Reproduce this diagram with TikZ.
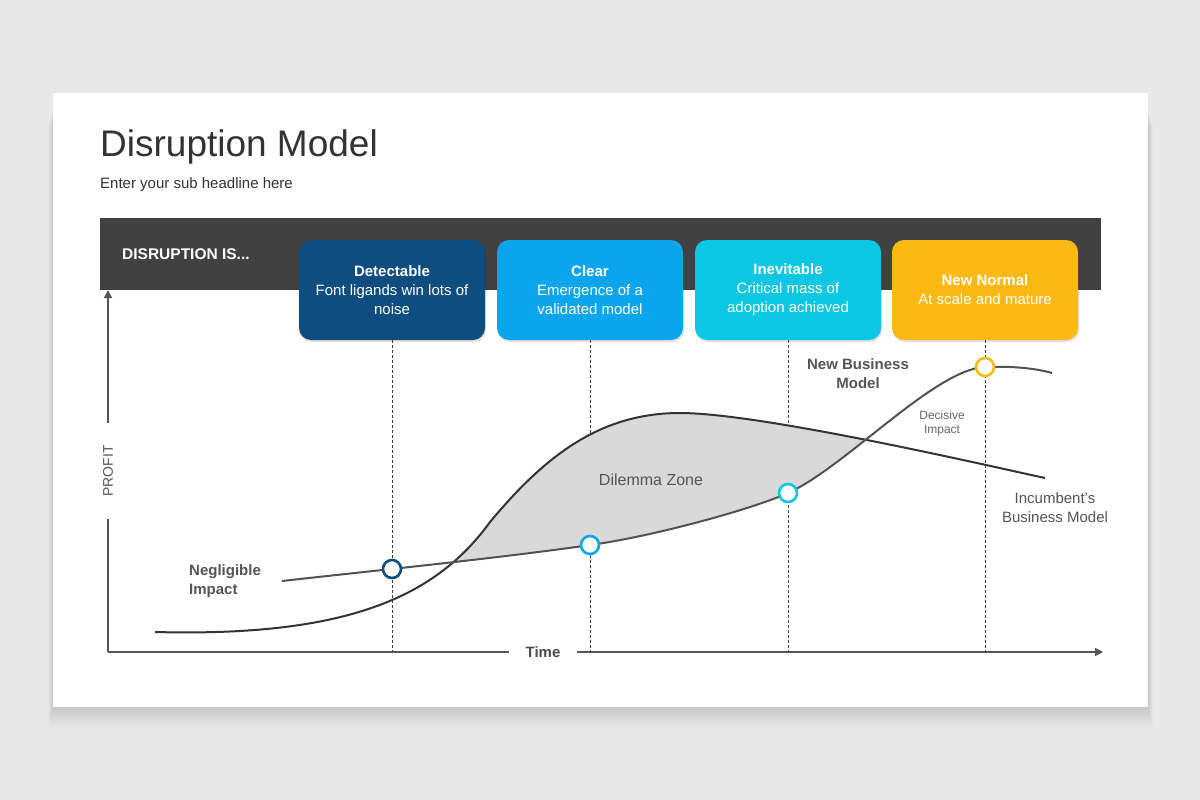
\documentclass[tikz,border=0pt]{standalone}
\usepackage{fontspec}
\setmainfont{Liberation Sans}
\usetikzlibrary{arrows.meta}
\definecolor{bgc}{HTML}{E9E8E9}
\definecolor{barc}{HTML}{414141}
\definecolor{titlec}{HTML}{333333}
\definecolor{labc}{HTML}{555555}
\definecolor{axisc}{HTML}{555555}
\definecolor{curvec}{HTML}{333333}
\definecolor{zonec}{HTML}{D9D9D9}
\definecolor{cdet}{HTML}{0E4D7F}
\definecolor{cclr}{HTML}{0AA5EC}
\definecolor{cinv}{HTML}{0BC7E3}
\definecolor{cnew}{HTML}{FDB913}
\begin{document}
\begin{tikzpicture}[x=1pt,y=-1pt,
  stagebox/.style={rounded corners=12pt, minimum width=186pt, minimum height=100pt,
    text=white, align=center, inner sep=0pt, font=\fontsize{15}{19}\selectfont,
    preaction={fill=black,opacity=.12,transform canvas={yshift=-2pt,xshift=1pt}}},
  guide/.style={draw=black!75, line width=1pt, dash pattern=on 3pt off 2pt},
  axisline/.style={draw=axisc, line width=1.4pt},
  curveline/.style={draw=curvec, line width=2pt},
  marker/.style={circle, fill=white, line width=2.6pt, minimum size=18pt, inner sep=0pt},
  lab/.style={text=labc, font=\fontsize{15}{19}\selectfont, align=center, inner sep=0pt},
  tip/.style={-{Triangle[width=8pt,length=8pt]}}
]
\useasboundingbox (0,0) rectangle (1200,800);
\fill[bgc] (0,0) rectangle (1200,800);
% card shadow
\foreach \i in {1,...,16}
  \fill[black,opacity=0.009] (53-\i*0.3,110+\i*1) rectangle (1148+\i*0.3,707+\i*1.3);
\fill[white] (53,93) rectangle (1148,707);

% title
\node[anchor=base west, inner sep=0pt, text=titlec, font=\fontsize{37}{40}\selectfont] (title) at (100,156) {Disruption Model};
\node[anchor=base west, inner sep=0pt, text=titlec, font=\fontsize{15}{17}\selectfont] (sub) at (100,188) {Enter your sub headline here};

% dark bar
\fill[barc] (100,218) rectangle (1101,290);
\node[anchor=west, inner sep=0pt, text=white, font=\bfseries\fontsize{15.5}{18}\selectfont] (dis) at (122,254) {DISRUPTION IS...};

% stage boxes
\node[stagebox, fill=cdet] (b1) at (392,290) {\textbf{Detectable}\\Font ligands win lots of\\noise};
\node[stagebox, fill=cclr] (b2) at (590,290) {\textbf{Clear}\\Emergence of a\\validated model};
\node[stagebox, fill=cinv] (b3) at (788,290) {\textbf{Inevitable}\\Critical mass of\\adoption achieved};
\node[stagebox, fill=cnew] (b4) at (985,290) {\textbf{New Normal}\\At scale and mature};

% axes
\coordinate (O) at (108,652);
\coordinate (ytop) at (108,290);
\coordinate (xend) at (1103,652);
\node[rotate=90, fill=white, inner xsep=22pt, inner ysep=2pt, text=labc, font=\fontsize{14}{17}\selectfont] (profit) at (108,471) {PROFIT};
\node[fill=white, inner xsep=16pt, inner ysep=2pt, text=labc!90!black, font=\bfseries\fontsize{15}{18}\selectfont] (time) at (543,652) {Time};
\draw[axisline] (O) -- (profit.west);
\draw[axisline, tip] (profit.east) -- (ytop);
\draw[axisline] (O) -- (time.west);
\draw[axisline, tip] (time.east) -- (xend);

% guide lines
\coordinate (t1) at (392,652);
\coordinate (t2) at (590,652);
\coordinate (t3) at (788,652);
\coordinate (t4) at (985,652);
\draw[guide] (b1.south) -- (t1);
\draw[guide] (b2.south) -- (t2);
\draw[guide] (b3.south) -- (t3);
\draw[guide] (b4.south) -- (t4);

% curves
\def\incumbent{(155,632) .. controls (345,637) and (435,598) .. (490,522)
  .. controls (545,456) and (600,413) .. (680,413)
  .. controls (760,413) and (985,465) .. (1045,478)}
\def\newmodel{(282,581) .. controls (380,570) and (500,558) .. (590,545)
  .. controls (650,537) and (750,510) .. (788,493)
  .. controls (845,467.5) and (935,369) .. (985,367)
  .. controls (1010,366) and (1035,368) .. (1052,373)}

% dilemma zone
\begin{scope}
  \clip (430,300) rectangle (890,660);
  \clip \incumbent -- (1045,700) -- (155,700) -- cycle;
  \fill[zonec] \newmodel -- (1052,300) -- (282,300) -- cycle;
\end{scope}
\draw[curveline] \incumbent;
\draw[curveline, draw=curvec!85] \newmodel;

% markers
\node[marker, draw=cdet] (m1) at (392,569) {};
\node[marker, draw=cclr] (m2) at (590,545) {};
\node[marker, draw=cinv] (m3) at (788,493) {};
\node[marker, draw=cnew] (m4) at (985,367) {};

% labels
\node[lab, anchor=west, font=\bfseries\fontsize{15}{19}\selectfont, align=left] (neg) at (189,581) {Negligible\\Impact};
\node[lab, font=\bfseries\fontsize{15}{19}\selectfont] (nbm) at (858,374) {New Business\\Model};
\node[lab, text=black!60, font=\fontsize{12}{14}\selectfont] (dec) at (942,423) {Decisive\\Impact};
\node[lab, font=\fontsize{16}{19}\selectfont] (dz) at (651,480) {Dilemma Zone};
\node[lab] (inc) at (1055,508) {Incumbent’s\\Business Model};
\end{tikzpicture}
\end{document}
